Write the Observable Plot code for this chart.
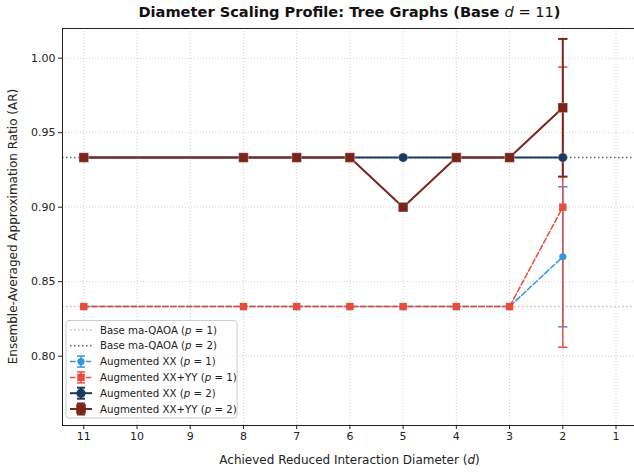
<!DOCTYPE html>
<html><head><meta charset="utf-8">
<script src="https://cdn.jsdelivr.net/npm/d3@7"></script>
<script src="https://cdn.jsdelivr.net/npm/@observablehq/plot@0.6"></script>
<style>body{margin:0;background:#fff;} #chart{width:634px;height:472px;overflow:hidden;}</style>
</head><body><div id="chart"></div>
<script>
// ---- data ----
const diameters = [11, 8, 7, 6, 5, 4, 3, 2];
const xxP1      = [0.8333, 0.8333, 0.8333, 0.8333, 0.8333, 0.8333, 0.8333, 0.8667];
const xxP1Err   = [0, 0, 0, 0, 0, 0, 0, 0.047];
const xxyyP1    = [0.8333, 0.8333, 0.8333, 0.8333, 0.8333, 0.8333, 0.8333, 0.9000];
const xxyyP1Err = [0, 0, 0, 0, 0, 0, 0, 0.094];
const xxP2      = [0.9333, 0.9333, 0.9333, 0.9333, 0.9333, 0.9333, 0.9333, 0.9333];
const xxP2Err   = [0, 0, 0, 0, 0, 0, 0, 0];
const xxyyP2    = [0.9333, 0.9333, 0.9333, 0.9333, 0.9000, 0.9333, 0.9333, 0.9667];
const xxyyP2Err = [0, 0, 0, 0, 0, 0, 0, 0.0462];
const baseP1 = 0.8333;
const baseP2 = 0.9333;
const xTicks = [11, 10, 9, 8, 7, 6, 5, 4, 3, 2, 1];
const yTicks = [0.80, 0.85, 0.90, 0.95, 1.00];
const seriesNames = ["Augmented XX", "Augmented XX+YY", "Augmented XX", "Augmented XX+YY"];
const seriesP = [1, 1, 2, 2];

// ---- styles ----
const series = [
  {values: xxP1,   errors: xxP1Err,   color: "#3498db", symbol: "circle", r: 3.6, dash: "5.5,2.4", width: 1.5},
  {values: xxyyP1, errors: xxyyP1Err, color: "#e74c3c", symbol: "square", r: 4.2, dash: "5.5,2.4", width: 1.5},
  {values: xxP2,   errors: xxP2Err,   color: "#1c3a60", symbol: "circle", r: 4.6, dash: null, width: 2},
  {values: xxyyP2, errors: xxyyP2Err, color: "#7b241c", symbol: "square", r: 5.4, dash: null, width: 2}
].map((s, i) => ({...s, name: seriesNames[i], p: seriesP[i],
  rows: diameters.map((d, j) => ({x: d, y: s.values[j], e: s.errors[j]}))}));

const capSymbol = {draw(ctx) { ctx.moveTo(-4.7, 0); ctx.lineTo(4.7, 0); }};

const marks = [
  Plot.gridX(xTicks, {stroke: "#b8b8b8", strokeOpacity: 0.8, strokeDasharray: "1,2", strokeWidth: 0.8}),
  Plot.gridY(yTicks, {stroke: "#b8b8b8", strokeOpacity: 0.8, strokeDasharray: "1,2", strokeWidth: 0.8}),
  Plot.ruleY([baseP1], {stroke: "#bdbdbd", strokeWidth: 1.5, strokeDasharray: "1.5,2.5"}),
  Plot.ruleY([baseP2], {stroke: "#666666", strokeWidth: 1.5, strokeDasharray: "1.5,2.5"})
];
for (const s of series) {
  const eb = s.rows.filter(d => d.e > 0);
  marks.push(Plot.ruleX(eb, {x: "x", y1: d => d.y - d.e, y2: d => d.y + d.e, stroke: s.color, strokeWidth: s.width}));
  marks.push(Plot.dot(eb, {x: "x", y: d => d.y - d.e, symbol: capSymbol, stroke: s.color, strokeWidth: s.width}));
  marks.push(Plot.dot(eb, {x: "x", y: d => d.y + d.e, symbol: capSymbol, stroke: s.color, strokeWidth: s.width}));
}
for (const s of series) {
  marks.push(Plot.line(s.rows, {x: "x", y: "y", stroke: s.color, strokeWidth: s.width, strokeDasharray: s.dash}));
}
for (const s of series) {
  marks.push(Plot.dot(s.rows, {x: "x", y: "y", symbol: s.symbol, r: s.r, fill: s.color,
    stroke: s.p === 2 ? "#ffffff" : "none", strokeOpacity: 0.35, strokeWidth: 0.8}));
}
marks.push(Plot.frame({stroke: "#222", strokeWidth: 1}));
marks.push(Plot.axisX(xTicks, {tickSize: 4, tickPadding: 3, tickFormat: d => String(d), label: null, stroke: "#222", fill: "#222"}));
marks.push(Plot.axisY(yTicks, {tickSize: 4, tickPadding: 3, tickFormat: d3.format(".2f"), label: null, stroke: "#222", fill: "#222"}));

const chart = Plot.plot({
  width: 634, height: 472,
  marginTop: 28, marginBottom: 47, marginLeft: 62, marginRight: -2.8,
  x: {domain: [11.4, 0.6]},
  y: {domain: [0.7535, 1.0199]},
  style: {fontFamily: "DejaVu Sans", fontSize: "11px", background: "#fff", color: "#222"},
  marks
});
document.getElementById("chart").appendChild(chart);

// ---- text & legend ----
const svg = d3.select(chart);
const title = svg.append("text").attr("x", 349.5).attr("y", 17).attr("text-anchor", "middle")
  .attr("font-family", "DejaVu Sans").attr("font-size", 14.6).attr("font-weight", "bold").attr("fill", "#111");
title.append("tspan").text("Diameter Scaling Profile: Tree Graphs (Base ");
title.append("tspan").attr("font-style", "italic").attr("font-weight", "normal").text("d");
title.append("tspan").attr("font-weight", "normal").text(" = 11");
title.append("tspan").text(")");

const xl = svg.append("text").attr("x", 349.5).attr("y", 464).attr("text-anchor", "middle")
  .attr("font-family", "DejaVu Sans").attr("font-size", 12).attr("fill", "#222");
xl.append("tspan").text("Achieved Reduced Interaction Diameter (");
xl.append("tspan").attr("font-style", "italic").text("d");
xl.append("tspan").text(")");

svg.append("text").attr("transform", "translate(17,226.5) rotate(-90)").attr("text-anchor", "middle")
  .attr("font-family", "DejaVu Sans").attr("font-size", 12).attr("fill", "#222")
  .text("Ensemble-Averaged Approximation Ratio (AR)");

const lg = svg.append("g").attr("font-family", "DejaVu Sans").attr("font-size", 10.2).attr("fill", "#222")
  .attr("text-anchor", "start");
lg.append("rect").attr("x", 66).attr("y", 320.5).attr("width", 171).attr("height", 97.5).attr("rx", 3)
  .attr("fill", "#fff").attr("fill-opacity", 0.85).attr("stroke", "#cccccc");
const legendItems = [
  {label: "Base ma-QAOA", p: 1, base: true, color: "#bdbdbd"},
  {label: "Base ma-QAOA", p: 2, base: true, color: "#666666"},
  ...series.map(s => ({label: s.name, p: s.p, base: false, s}))
];
legendItems.forEach((it, i) => {
  const cy = 330 + i * 15.8;
  const g = lg.append("g");
  if (it.base) {
    g.append("line").attr("x1", 70).attr("x2", 92).attr("y1", cy).attr("y2", cy)
      .attr("stroke", it.color).attr("stroke-width", 1.5).attr("stroke-dasharray", "1.5,2.5");
  } else {
    const s = it.s;
    g.append("line").attr("x1", 70).attr("x2", 92).attr("y1", cy).attr("y2", cy)
      .attr("stroke", s.color).attr("stroke-width", s.width).attr("stroke-dasharray", s.dash);
    g.append("line").attr("x1", 81).attr("x2", 81).attr("y1", cy - 5.5).attr("y2", cy + 5.5)
      .attr("stroke", s.color).attr("stroke-width", s.width);
    for (const dy of [-5.5, 5.5]) g.append("line").attr("x1", 77).attr("x2", 85).attr("y1", cy + dy).attr("y2", cy + dy)
      .attr("stroke", s.color).attr("stroke-width", s.width);
    const sym = d3.symbol(s.symbol === "circle" ? d3.symbolCircle : d3.symbolSquare, Math.PI * s.r * s.r);
    g.append("path").attr("d", sym()).attr("transform", `translate(81,${cy})`).attr("fill", s.color);
  }
  const t = g.append("text").attr("x", 100).attr("y", cy).attr("dy", "0.36em").attr("text-anchor", "start");
  t.append("tspan").text(it.label + " (");
  t.append("tspan").attr("font-style", "italic").text("p");
  t.append("tspan").text(" = " + it.p + ")");
});
</script>
</body></html>
